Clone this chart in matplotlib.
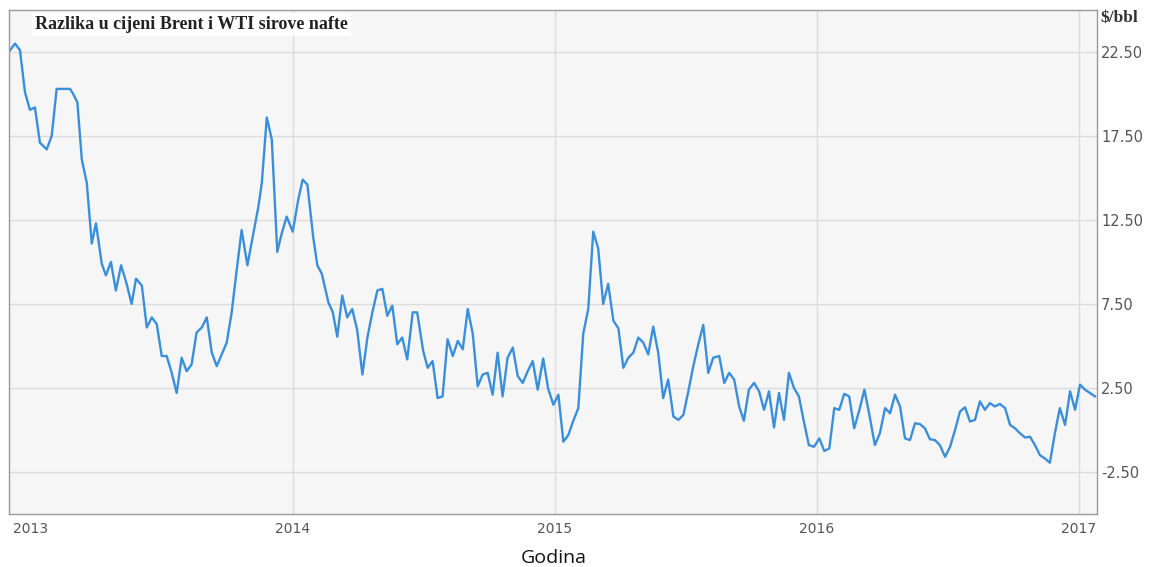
import numpy as np
import matplotlib as mpl
mpl.use("Agg")
from matplotlib import pyplot as plt

# weekly Brent - WTI spread, time as decimal year
godina = [
    2012.920, 2012.939, 2012.958, 2012.977, 2012.996, 2013.015, 2013.034, 2013.060, 2013.079, 2013.098,
    2013.117, 2013.149, 2013.161, 2013.177, 2013.194, 2013.213, 2013.232, 2013.248, 2013.270, 2013.286,
    2013.305, 2013.324, 2013.344, 2013.365, 2013.384, 2013.401, 2013.423, 2013.442, 2013.461, 2013.480,
    2013.499, 2013.518, 2013.537, 2013.556, 2013.575, 2013.594, 2013.613, 2013.632, 2013.652, 2013.671,
    2013.690, 2013.709, 2013.728, 2013.747, 2013.766, 2013.785, 2013.804, 2013.826, 2013.849, 2013.868,
    2013.881, 2013.900, 2013.919, 2013.940, 2013.957, 2013.976, 2013.999,
    2014.020, 2014.037, 2014.055, 2014.077, 2014.093, 2014.110, 2014.135, 2014.152, 2014.169, 2014.188,
    2014.207, 2014.226, 2014.245, 2014.265, 2014.284, 2014.303, 2014.322, 2014.341, 2014.360, 2014.379,
    2014.398, 2014.417, 2014.436, 2014.457, 2014.474, 2014.497, 2014.514, 2014.533, 2014.552, 2014.571,
    2014.590, 2014.610, 2014.629, 2014.648, 2014.667, 2014.686, 2014.705, 2014.724, 2014.743, 2014.762,
    2014.781, 2014.800, 2014.819, 2014.839, 2014.858, 2014.877, 2014.896, 2014.915, 2014.934, 2014.955,
    2014.974, 2014.994,
    2015.013, 2015.032, 2015.051, 2015.070, 2015.089, 2015.108, 2015.127, 2015.146, 2015.165, 2015.184,
    2015.203, 2015.223, 2015.242, 2015.261, 2015.280, 2015.299, 2015.318, 2015.337, 2015.356, 2015.375,
    2015.394, 2015.413, 2015.432, 2015.452, 2015.471, 2015.490, 2015.509, 2015.528, 2015.547, 2015.566,
    2015.585, 2015.604, 2015.627, 2015.646, 2015.665, 2015.684, 2015.703, 2015.721, 2015.740, 2015.760,
    2015.779, 2015.798, 2015.817, 2015.836, 2015.855, 2015.874, 2015.893, 2015.912, 2015.931, 2015.950,
    2015.969, 2015.989,
    2016.009, 2016.028, 2016.047, 2016.066, 2016.085, 2016.104, 2016.123, 2016.142, 2016.162, 2016.181,
    2016.200, 2016.221, 2016.240, 2016.260, 2016.279, 2016.298, 2016.317, 2016.336, 2016.355, 2016.374,
    2016.393, 2016.412, 2016.431, 2016.450, 2016.469, 2016.489, 2016.508, 2016.527, 2016.546, 2016.565,
    2016.584, 2016.603, 2016.622, 2016.641, 2016.660, 2016.679, 2016.698, 2016.718, 2016.737, 2016.756,
    2016.775, 2016.794, 2016.813, 2016.832, 2016.851, 2016.870, 2016.889, 2016.908, 2016.927, 2016.947,
    2016.966, 2016.985,
    2017.004, 2017.023, 2017.042, 2017.061,
]

razlika = [
    22.6, 23.0, 22.6, 20.1, 19.05, 19.2, 17.1, 16.7, 17.5, 20.3,
    20.3, 20.3, 20.0, 19.5, 16.1, 14.7, 11.1, 12.3, 9.9, 9.2,
    10.0, 8.3, 9.8, 8.7, 7.5, 9.0, 8.6, 6.1, 6.7, 6.3,
    4.4, 4.4, 3.4, 2.2, 4.3, 3.5, 3.9, 5.8, 6.1, 6.7,
    4.6, 3.8, 4.5, 5.2, 7.0, 9.5, 11.9, 9.8, 11.7, 13.3,
    14.7, 18.6, 17.3, 10.6, 11.7, 12.7, 11.8,
    13.7, 14.9, 14.6, 11.5, 9.8, 9.3, 7.6, 7.0, 5.55, 8.0,
    6.7, 7.2, 5.95, 3.3, 5.5, 7.0, 8.3, 8.4, 6.8, 7.4,
    5.1, 5.5, 4.2, 7.0, 7.0, 4.7, 3.7, 4.1, 1.9, 2.0,
    5.4, 4.4, 5.3, 4.8, 7.2, 5.75, 2.6, 3.3, 3.4, 2.1,
    4.6, 2.0, 4.3, 4.9, 3.2, 2.8, 3.5, 4.1, 2.4, 4.25,
    2.45, 1.5,
    2.1, -0.7, -0.3, 0.55, 1.3, 5.75, 7.2, 11.8, 10.8, 7.5,
    8.7, 6.5, 6.05, 3.7, 4.3, 4.6, 5.5, 5.2, 4.5, 6.15,
    4.6, 1.9, 3.0, 0.8, 0.6, 0.9, 2.3, 3.8, 5.1, 6.25,
    3.4, 4.3, 4.4, 2.8, 3.4, 3.0, 1.4, 0.55, 2.4, 2.8,
    2.3, 1.2, 2.3, 0.15, 2.2, 0.6, 3.4, 2.5, 2.0, 0.5,
    -0.9, -1.0,
    -0.5, -1.25, -1.1, 1.3, 1.2, 2.15, 2.0, 0.1, 1.2, 2.4,
    0.9, -0.9, -0.2, 1.3, 1.0, 2.1, 1.4, -0.5, -0.6, 0.4,
    0.35, 0.1, -0.55, -0.6, -0.9, -1.6, -1.0, 0.0, 1.1, 1.35,
    0.5, 0.6, 1.7, 1.2, 1.6, 1.4, 1.55, 1.3, 0.3, 0.1,
    -0.2, -0.45, -0.4, -0.9, -1.5, -1.7, -1.95, -0.2, 1.3, 0.3,
    2.3, 1.2,
    2.7, 2.4, 2.2, 2.0,
]

godine = [2013, 2014, 2015, 2016, 2017]
y_ticks = [-2.5, 2.5, 7.5, 12.5, 17.5, 22.5]

fig = plt.figure(figsize=(11.52, 5.67), dpi=100)
ax = fig.add_axes([0.0078, 0.0935, 0.9445, 0.889])
ax.set_facecolor("#f6f6f6")

ax.plot(godina, razlika, color="#3a8fdb", lw=1.7, solid_joinstyle="round")

ax.set_xlim(2012.916, 2017.069)
ax.set_ylim(-5, 25)

ax.set_xticks(godine)
ax.set_xticklabels([str(g) for g in godine], fontsize=10, color="#555555",
                   family="DejaVu Sans")
ax.set_yticks(y_ticks)
ax.set_yticklabels(["%.2f" % t for t in y_ticks], fontsize=10.5, color="#555555",
                   family="DejaVu Sans")
ax.yaxis.tick_right()
ax.tick_params(axis="both", length=0)
ax.tick_params(axis="y", pad=3)
ax.tick_params(axis="x", pad=6)

ax.grid(True, color="#dcdcdc", lw=1)
ax.set_axisbelow(True)
ax.get_xgridlines()[0].set_visible(False)

for s in ax.spines.values():
    s.set_color("#9a9a9a")
    s.set_linewidth(1)

ax.text(0.024, 0.988, "Razlika u cijeni Brent i WTI sirove nafte", transform=ax.transAxes,
        fontsize=13, fontweight="bold", family="Liberation Serif", color="#222222",
        va="top", ha="left",
        bbox=dict(facecolor="white", edgecolor="none", pad=2))
fig.text(0.955, 0.968, "$/bbl", fontsize=12.5, fontweight="bold", family="Liberation Serif",
         color="#333333", va="center", ha="left")

fig.text(0.481, 0.016, "Godina", fontsize=14, family="Open Sans", color="#111111",
         ha="center", va="center")

plt.savefig("out.png", dpi=100)
